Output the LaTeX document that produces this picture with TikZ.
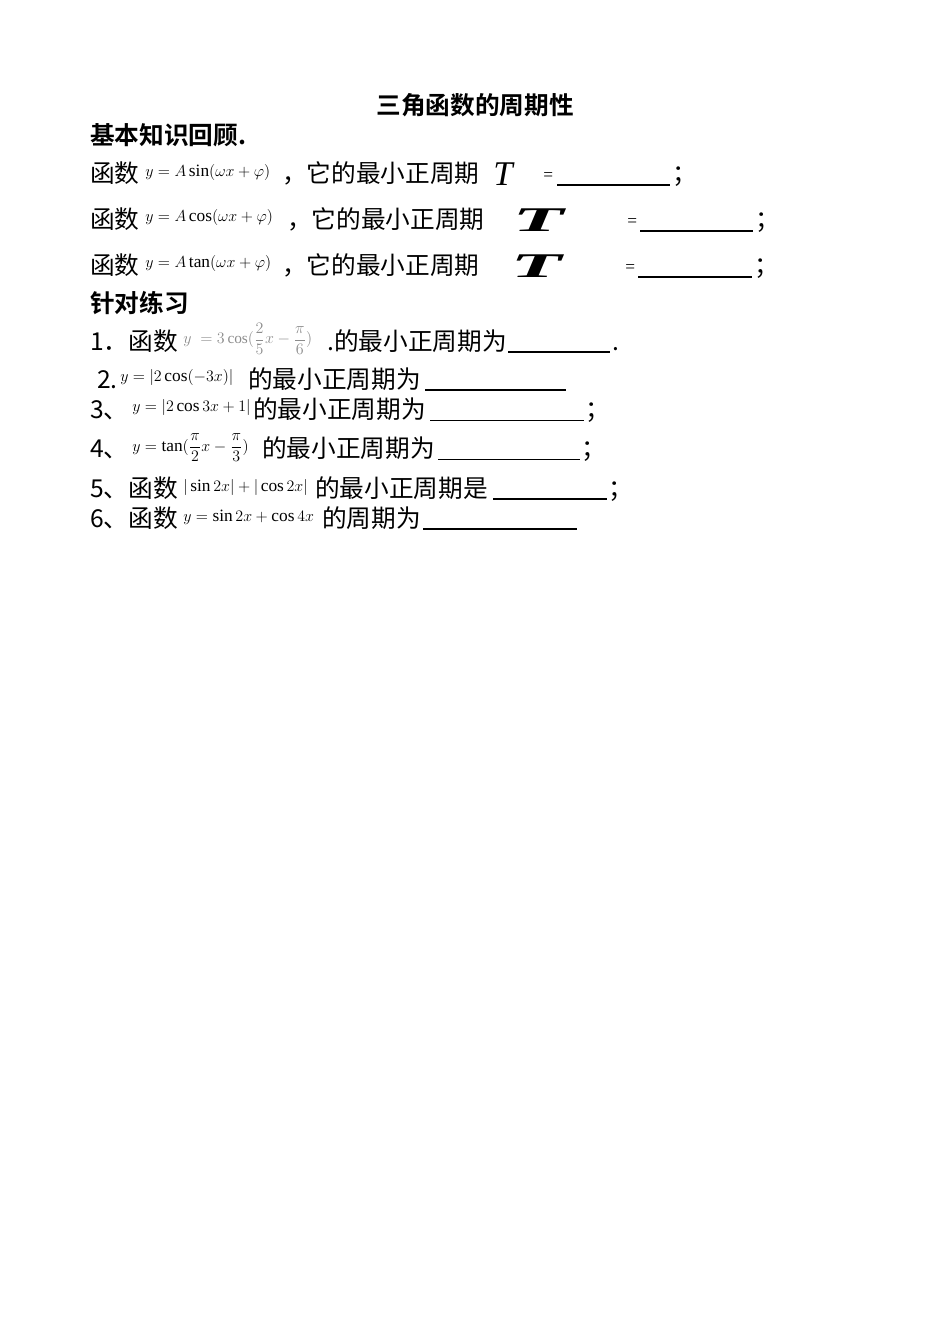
\documentclass[tikz,border=0pt]{standalone}
\usepackage{fontspec}
\setmainfont{Liberation Serif}
\newfontfamily\cjk{Noto Sans CJK SC}
\newfontfamily\cjkb{Noto Sans CJK SC}[BoldFont={* Bold}]
\begin{document}
\begin{tikzpicture}[x=0.75pt,y=-0.75pt,
  every node/.style={inner sep=0pt,anchor=base west},
  zh/.style={font=\cjk\fontsize{18.5}{20}\selectfont},
  hd/.style={font=\cjkb\bfseries\fontsize{18.5}{20}\selectfont},
  fm/.style={font=\fontsize{13}{14}\selectfont},
  fmg/.style={font=\fontsize{11.5}{12}\selectfont,text=black!45},
  blank/.style={line width=0.8pt}]
\useasboundingbox[fill=white] (0,0) rectangle (950,1344);
\node[hd,anchor=base] (title) at (475,115) {三角函数的周期性};
\node[hd] (h1) at (90,145) {基本知识回顾.};
% row 1
\node[zh] (a1) at (90,183) {函数};
\node[fm] (f1) at (145,177) {$y=A\sin(\omega x+\varphi)$};
\node[zh] (b1) at (282,183) {，它的最小正周期};
\node[font=\fontsize{26}{28}\selectfont\itshape] (t1) at (493,186) {T};
\node[fm] (e1) at (543,181) {=};
\coordinate (l1a) at (557,185); \coordinate (l1b) at (670,185);
\draw[blank] (l1a) -- (l1b);
\node[zh] (s1) at (672,183) {；};
% row 2
\node[zh] (a2) at (90,229) {函数};
\node[fm] (f2) at (145,222) {$y=A\cos(\omega x+\varphi)$};
\node[zh] (b2) at (287,229) {，它的最小正周期};
\node[font=\fontsize{26}{28}\selectfont\bfseries\itshape,xscale=2.4] (t2) at (512,232) {T};
\node[fm] (e2) at (627,227) {=};
\coordinate (l2a) at (640,231); \coordinate (l2b) at (753,231);
\draw[blank] (l2a) -- (l2b);
\node[zh] (s2) at (755,229) {；};
% row 3
\node[zh] (a3) at (90,275) {函数};
\node[fm] (f3) at (145,268) {$y=A\tan(\omega x+\varphi)$};
\node[zh] (b3) at (282,275) {，它的最小正周期};
\node[font=\fontsize{26}{28}\selectfont\bfseries\itshape,xscale=2.4] (t3) at (510,278) {T};
\node[fm] (e3) at (625,273) {=};
\coordinate (l3a) at (638,277); \coordinate (l3b) at (752,277);
\draw[blank] (l3a) -- (l3b);
\node[zh] (s3) at (754,275) {；};
% exercises
\node[hd] (h2) at (90,312) {针对练习};
\node[zh] (q1) at (90,350) {1．函数};
\node[fmg] (g1) at (183,344) {$y\;=3\cos(\displaystyle\frac{2}{5}x-\frac{\pi}{6})$};
\node[zh] (r1) at (327,350) {.的最小正周期为};
\coordinate (m1a) at (508,352); \coordinate (m1b) at (610,352);
\draw[blank] (m1a) -- (m1b);
\node[zh] (p1) at (612,350) {.};
\node[zh] (q2) at (97,388) {2.};
\node[fm] (g2) at (120,381) {$y=|2\cos(-3x)|$};
\node[zh] (r2) at (248,388) {的最小正周期为};
\coordinate (m2a) at (425,390); \coordinate (m2b) at (566,390);
\draw[blank] (m2a) -- (m2b);
\node[zh] (q3) at (90,418) {3、};
\node[fm] (g3) at (132,411) {$y=|2\cos3x+1|$};
\node[zh] (r3) at (253,418) {的最小正周期为};
\coordinate (m3a) at (430,420); \coordinate (m3b) at (584,420);
\draw[line width=0.5pt] (m3a) -- (m3b);
\node[zh] (s4) at (585,418) {；};
\node[zh] (q4) at (90,457) {4、};
\node[fm] (g4) at (132,451) {$y=\tan(\displaystyle\frac{\pi}{2}x-\frac{\pi}{3})$};
\node[zh] (r4) at (262,457) {的最小正周期为};
\coordinate (m4a) at (438,459); \coordinate (m4b) at (580,459);
\draw[line width=0.5pt] (m4a) -- (m4b);
\node[zh] (s5) at (581,457) {；};
\node[zh] (q5) at (90,497) {5、函数};
\node[fm] (g5) at (183,491) {$|\sin2x|+|\cos2x|$};
\node[zh] (r5) at (315,497) {的最小正周期是};
\coordinate (m5a) at (493,499); \coordinate (m5b) at (607,499);
\draw[blank] (m5a) -- (m5b);
\node[zh] (s6) at (608,497) {；};
\node[zh] (q6) at (90,527) {6、函数};
\node[fm] (g6) at (183,521) {$y=\sin2x+\cos4x$};
\node[zh] (r6) at (322,527) {的周期为};
\coordinate (m6a) at (423,529); \coordinate (m6b) at (577,529);
\draw[blank] (m6a) -- (m6b);
\end{tikzpicture}
\end{document}
